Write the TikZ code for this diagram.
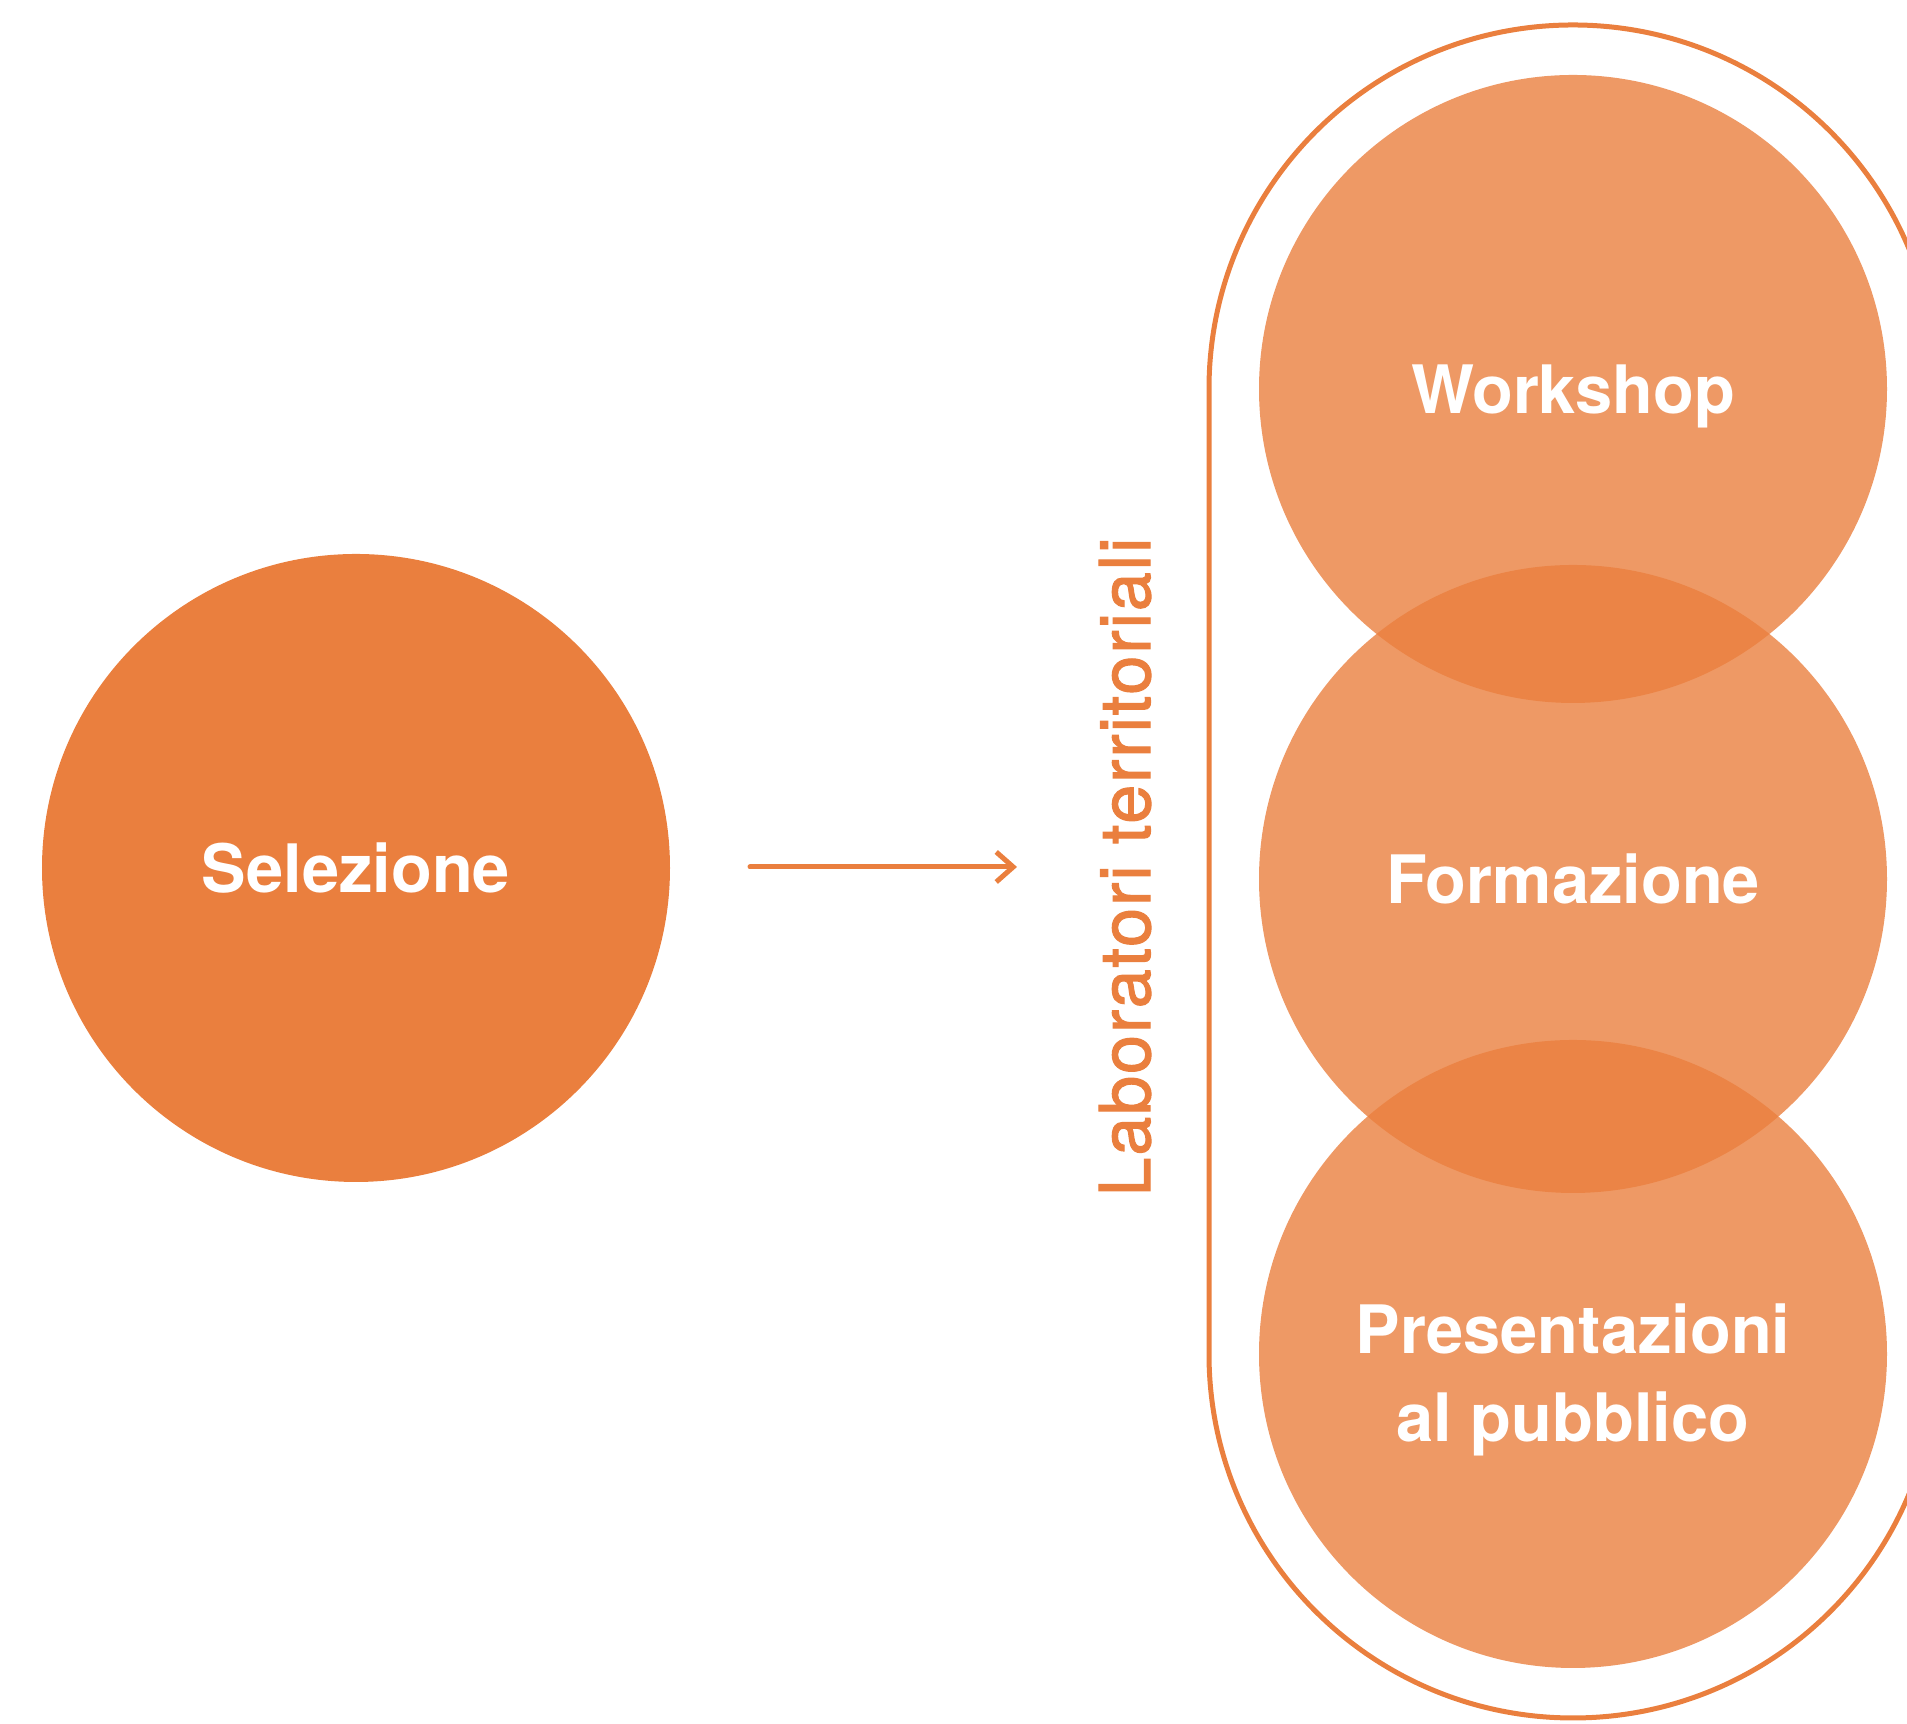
\documentclass[tikz,border=0pt]{standalone}
\usepackage{fontspec}
\setmainfont{TeX Gyre Heros}
\newfontfamily\labfont[FakeBold=1.5, LetterSpace=2.5]{TeX Gyre Heros}
\definecolor{orange}{RGB}{234, 127, 62}
\definecolor{softorange}{RGB}{234, 127, 62}
\usetikzlibrary{arrows.meta}

\begin{document}
\begin{tikzpicture}[
    step circle/.style={circle, minimum size=6.28cm, inner sep=0pt, text=white,
      font=\bfseries\fontsize{19}{25.2}\selectfont, align=center},
    lab circle/.style={step circle, fill=softorange, fill opacity=0.8, text opacity=1}]
      \useasboundingbox (0,0) rectangle (19.07,17.24);
      \clip (0,0) rectangle (19.07,17.24);

      % Outline round the workshops
      \draw[orange, line width=0.05cm] (12.09,3.70) -- (12.09,13.35)
        arc (180:0:3.64) -- (19.37,3.70) arc (0:-180:3.64) -- cycle;

      % Steps
      \node[step circle, fill=orange, text depth=0pt] (sel) at (3.56,8.56) {Selezione};
      \node[lab circle, text depth=0pt] (work) at (15.73,13.35) {Workshop};
      \node[lab circle, text depth=0pt] (form) at (15.73,8.45) {Formazione};
      \node[lab circle, label={[text=white, font=\bfseries\fontsize{19}{25.2}\selectfont,
        align=center, yshift=-0.26cm]center:Presentazioni\\al pubblico}] (pres) at (15.73,3.70) {};

      % Label
      \node[rotate=90, text=orange, font=\labfont\fontsize{20}{24}\selectfont] (lab) at (11.25,8.57) {Laboratori territoriali};

      % Arrow
      \coordinate (a1) at (7.50,8.57);
      \coordinate (a2) at (10.17,8.57);
      \draw[orange, line width=0.05cm, line cap=round, line join=round,
        -{Straight Barb[length=0.17cm, width=0.30cm]}] (a1) -- (a2);
\end{tikzpicture}
\end{document}
